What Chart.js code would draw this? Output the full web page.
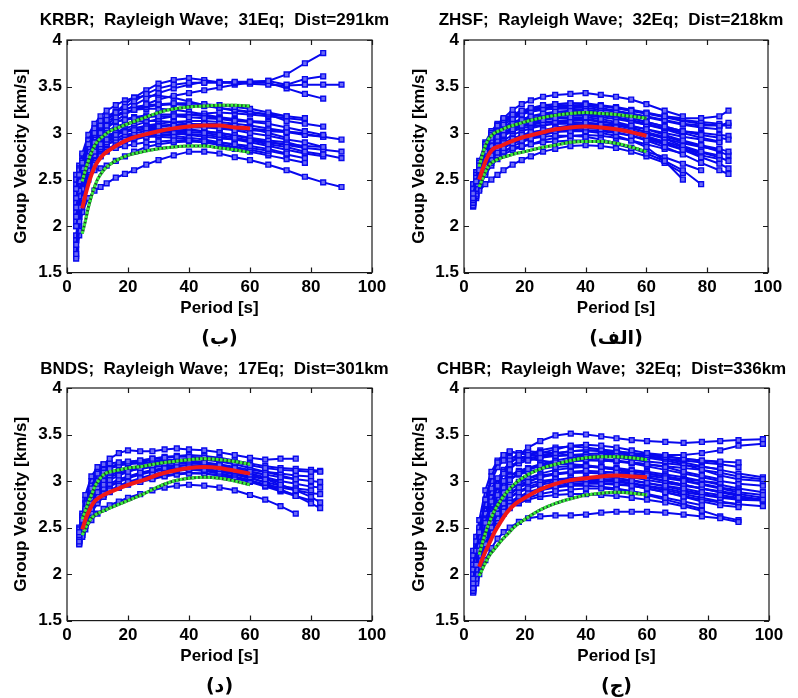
<!DOCTYPE html>
<html>
<head>
<meta charset="utf-8">
<script src="https://cdn.jsdelivr.net/npm/chart.js@4.4.1/dist/chart.umd.min.js"></script>
<style>
  body { margin: 0; background: #fff; }
  #wrap { position: relative; width: 798px; height: 698px; background: #fff; }
  #wrap canvas { position: absolute; }
</style>
</head>
<body>
<div id="wrap">
  <canvas id="krbr" width="400" height="350" style="left:0;top:0"></canvas>
  <canvas id="zhsf" width="398" height="350" style="left:400px;top:0"></canvas>
  <canvas id="bnds" width="400" height="348" style="left:0;top:350px"></canvas>
  <canvas id="chbr" width="398" height="348" style="left:400px;top:350px"></canvas>
</div>
<script>
// periods of the averaged curves (red mean, green +/- std)
const meanPeriods = [5, 6, 7, 8, 9, 10, 12, 14, 17, 20, 25, 30, 35, 40, 45, 50, 55, 60];
const xTicks = [0, 20, 40, 60, 80, 100];
const yTicks = [1.5, 2, 2.5, 3, 3.5, 4];

// KRBR
const krbrPeriods = [3, 4, 5, 7, 9, 11, 13, 16, 19, 22, 26, 30, 35, 40, 45, 50, 55, 60, 66, 72, 78, 84, 90];
const krbrCurves = [
  [2.40,2.55,2.68,2.88,3.00,3.08,3.14,3.22,3.28,3.34,3.42,3.48,3.52,3.54,3.54,3.54,3.55,3.55,3.56,3.63,3.75,3.86,null],
  [2.30,2.48,2.62,2.85,2.98,3.07,3.14,3.23,3.31,3.38,3.46,3.53,3.57,3.59,3.57,3.54,3.54,3.55,3.56,3.52,3.58,3.61,null],
  [2.20,2.38,2.52,2.75,2.90,3.00,3.08,3.17,3.24,3.30,3.37,3.43,3.48,3.52,3.55,3.55,3.54,3.53,3.52,3.51,3.52,3.52,3.52],
  [2.10,2.32,2.50,2.74,2.88,2.98,3.05,3.13,3.20,3.25,3.31,3.36,3.40,3.43,3.46,3.49,3.52,3.54,3.54,3.48,3.42,3.37,null],
  [2.35,2.55,2.70,2.92,3.05,3.13,3.18,3.23,3.26,3.28,3.30,3.31,3.32,3.32,3.31,3.30,3.28,3.26,3.22,3.18,3.16,null,null],
  [2.25,2.45,2.60,2.85,2.98,3.06,3.12,3.18,3.22,3.25,3.28,3.30,3.31,3.30,3.29,3.27,3.25,3.23,3.20,3.13,3.10,3.07,null],
  [2.00,2.20,2.40,2.65,2.80,2.88,2.93,2.98,3.01,3.03,3.05,3.07,3.08,3.09,3.10,3.10,3.08,3.05,3.00,2.95,null,null,null],
  [1.80,2.05,2.30,2.60,2.76,2.85,2.90,2.95,2.98,3.00,3.02,3.04,3.05,3.06,3.06,3.05,3.03,3.00,2.97,2.93,2.90,2.85,null],
  [1.70,1.95,2.25,2.58,2.75,2.83,2.88,2.92,2.95,2.97,2.99,3.00,3.01,3.01,3.00,2.98,2.95,2.92,2.88,2.85,2.80,2.77,2.73],
  [null,2.00,2.15,2.30,2.38,2.42,2.46,2.52,2.56,2.60,2.66,2.71,2.76,2.80,2.80,2.78,2.74,2.71,2.66,2.60,2.53,2.47,2.42],
  [1.65,1.90,2.20,2.50,2.66,2.75,2.80,2.84,2.86,2.88,2.90,2.91,2.92,2.92,2.91,2.90,2.88,2.86,2.83,2.78,null,null,null],
  [2.30,2.45,2.60,2.80,2.90,2.95,2.98,3.00,3.02,3.03,3.04,3.05,3.05,3.04,3.02,3.00,2.98,2.95,2.92,2.90,2.85,null,null],
  [2.40,2.55,2.68,2.85,2.95,3.02,3.07,3.12,3.14,3.16,3.17,3.18,3.18,3.17,3.16,3.15,3.13,3.12,3.10,3.06,3.02,2.98,null],
  [1.75,2.10,2.40,2.70,2.82,2.88,2.92,2.95,2.97,2.98,2.99,2.98,2.97,2.95,2.93,2.90,2.87,2.84,2.81,2.77,2.73,null,null],
  [2.05,2.25,2.45,2.70,2.83,2.90,2.95,3.00,3.03,3.05,3.07,3.08,3.09,3.10,3.09,3.08,3.06,3.05,3.03,3.01,2.98,2.96,null],
  [2.10,2.30,2.45,2.55,2.60,2.62,2.65,2.70,2.75,2.80,2.85,2.88,2.90,2.91,2.90,2.88,2.85,2.82,2.78,null,null,null,null],
  [2.50,2.60,2.70,2.88,2.98,3.04,3.08,3.12,3.15,3.17,3.19,3.20,3.20,3.20,3.18,3.16,3.14,3.12,null,null,null,null,null],
  [1.90,2.15,2.35,2.62,2.76,2.84,2.88,2.92,2.94,2.95,2.96,2.96,2.95,2.93,2.90,2.87,2.83,2.80,2.76,2.72,2.68,null,null],
  [2.45,2.62,2.78,2.98,3.10,3.18,3.24,3.30,3.35,3.38,3.40,3.40,3.38,3.34,3.30,3.27,3.24,3.22,3.20,3.18,null,null,null],
  [2.20,2.40,2.55,2.75,2.86,2.92,2.96,3.00,3.02,3.03,3.04,3.02,3.00,2.98,2.96,2.94,2.93,2.92,2.90,2.88,2.86,2.85,null],
  [1.68,1.95,2.28,2.62,2.78,2.87,2.93,2.98,3.02,3.05,3.08,3.10,3.12,3.13,3.13,3.12,3.10,3.08,3.05,3.02,2.99,2.96,2.93],
  [2.15,2.35,2.50,2.72,2.84,2.91,2.96,3.01,3.05,3.08,3.12,3.15,3.18,3.20,3.21,3.22,3.21,3.20,3.18,3.16,3.14,null,null],
  [1.85,2.10,2.32,2.55,2.68,2.76,2.82,2.88,2.92,2.95,2.98,3.00,3.02,3.03,3.02,3.00,2.97,2.94,2.90,2.87,2.84,2.82,2.80],
  [2.55,2.65,2.75,2.92,3.03,3.10,3.15,3.20,3.23,3.25,3.26,3.26,3.25,3.23,3.20,3.17,3.15,3.13,3.12,null,null,null,null],
  [2.00,2.18,2.35,2.56,2.68,2.76,2.81,2.86,2.90,2.93,2.96,2.98,2.99,2.99,2.98,2.96,2.93,2.90,2.86,2.82,2.78,2.75,null],
  [2.28,2.45,2.58,2.78,2.90,2.97,3.02,3.07,3.10,3.12,3.13,3.13,3.12,3.10,3.08,3.06,3.04,3.03,3.02,3.01,3.00,null,null]
];
const krbrMean  = [2.19,2.33,2.45,2.55,2.63,2.69,2.77,2.82,2.88,2.93,2.98,3.02,3.05,3.07,3.08,3.08,3.06,3.05];
const krbrUpper = [2.48,2.60,2.70,2.79,2.86,2.91,2.97,3.02,3.06,3.10,3.16,3.22,3.26,3.28,3.29,3.30,3.30,3.29];
const krbrLower = [1.92,2.05,2.20,2.32,2.42,2.50,2.60,2.66,2.72,2.76,2.80,2.83,2.85,2.86,2.86,2.84,2.82,2.79];

// ZHSF
const zhsfPeriods = [3, 4, 5, 7, 9, 11, 13, 16, 19, 22, 26, 30, 35, 40, 45, 50, 55, 60, 66, 72, 78, 84, 87];
const zhsfCurves = [
  [2.35,2.48,2.60,2.80,2.95,3.08,3.16,3.25,3.31,3.35,3.39,3.41,3.42,3.43,3.41,3.39,3.36,3.31,3.24,3.18,null,null,null],
  [2.40,2.52,2.65,2.85,2.98,3.08,3.14,3.20,3.24,3.27,3.30,3.31,3.32,3.31,3.29,3.27,3.24,3.21,3.18,3.16,3.16,3.18,3.24],
  [2.30,2.45,2.58,2.78,2.92,3.02,3.09,3.15,3.20,3.23,3.26,3.28,3.29,3.29,3.27,3.24,3.21,3.18,3.14,3.10,3.08,3.08,3.11],
  [2.28,2.40,2.52,2.72,2.86,2.96,3.03,3.10,3.14,3.18,3.21,3.23,3.24,3.24,3.22,3.20,3.16,3.12,3.07,3.02,2.98,2.95,2.93],
  [2.25,2.38,2.50,2.70,2.83,2.92,2.98,3.04,3.08,3.11,3.14,3.16,3.17,3.17,3.15,3.12,3.08,3.04,2.98,2.92,2.87,2.83,2.80],
  [2.30,2.42,2.55,2.74,2.86,2.94,2.99,3.04,3.07,3.09,3.11,3.12,3.12,3.11,3.09,3.06,3.02,2.97,2.90,2.82,2.74,2.67,2.62],
  [2.22,2.34,2.46,2.64,2.76,2.84,2.89,2.94,2.98,3.01,3.03,3.05,3.06,3.06,3.04,3.01,2.97,2.92,2.85,2.77,2.68,2.60,2.56],
  [2.26,2.36,2.48,2.62,2.72,2.79,2.84,2.89,2.92,2.94,2.96,2.97,2.97,2.96,2.93,2.89,2.84,2.78,2.70,2.60,2.45,null,null],
  [2.25,2.32,2.38,2.45,2.50,2.55,2.60,2.66,2.71,2.75,2.80,2.83,2.86,2.87,2.86,2.84,2.80,2.75,2.68,2.57,null,null,null],
  [2.28,2.40,2.50,2.66,2.76,2.82,2.86,2.90,2.93,2.96,2.99,3.01,3.02,3.02,3.00,2.97,2.92,2.85,2.70,2.50,null,null,null],
  [2.35,2.48,2.60,2.78,2.90,2.98,3.03,3.08,3.11,3.13,3.15,3.16,3.16,3.15,3.13,3.10,3.06,3.01,2.94,2.86,2.80,2.76,null],
  [2.40,2.55,2.68,2.88,3.00,3.08,3.13,3.18,3.21,3.23,3.25,3.26,3.26,3.25,3.23,3.20,3.16,3.12,3.07,3.02,2.99,null,null],
  [2.32,2.44,2.56,2.76,2.88,2.95,3.00,3.05,3.08,3.10,3.12,3.13,3.14,3.14,3.12,3.10,3.07,3.04,3.00,2.96,2.93,2.90,null],
  [2.24,2.34,2.44,2.60,2.70,2.76,2.80,2.84,2.86,2.88,2.90,2.91,2.92,2.92,2.91,2.88,2.84,2.80,2.74,2.67,2.60,null,null],
  [2.45,2.58,2.70,2.90,3.02,3.10,3.15,3.20,3.23,3.25,3.27,3.28,3.28,3.27,3.25,3.23,3.20,3.17,3.13,3.09,3.06,3.04,null],
  [2.30,2.40,2.52,2.70,2.80,2.86,2.90,2.94,2.97,2.99,3.01,3.02,3.03,3.03,3.02,3.00,2.97,2.93,2.88,2.82,2.76,2.72,null],
  [2.38,2.50,2.63,2.82,2.94,3.02,3.07,3.12,3.15,3.18,3.20,3.21,3.22,3.22,3.20,3.17,3.13,3.09,3.04,2.98,null,null,null],
  [2.27,2.37,2.47,2.62,2.74,2.82,2.88,2.93,2.97,3.00,3.03,3.06,3.08,3.09,3.08,3.06,3.03,2.99,2.94,2.89,2.85,2.82,null],
  [2.23,2.33,2.43,2.58,2.68,2.75,2.80,2.86,2.90,2.94,2.98,3.01,3.04,3.05,3.05,3.03,3.00,2.96,2.91,2.85,2.79,2.74,2.70],
  [2.36,2.49,2.62,2.84,2.98,3.07,3.13,3.19,3.23,3.26,3.29,3.31,3.32,3.32,3.30,3.28,3.25,3.22,3.18,3.14,3.12,3.10,null],
  [2.29,2.41,2.53,2.72,2.84,2.92,2.97,3.02,3.05,3.07,3.09,3.10,3.10,3.09,3.07,3.04,3.00,2.95,2.89,2.83,2.78,null,null],
  [2.33,2.46,2.59,2.80,2.93,3.01,3.06,3.11,3.14,3.16,3.18,3.19,3.19,3.19,3.17,3.15,3.12,3.09,3.05,3.02,3.00,2.98,2.97],
  [2.21,2.30,2.40,2.55,2.65,2.72,2.77,2.82,2.85,2.88,2.92,2.95,2.97,2.98,2.97,2.95,2.92,2.88,2.83,2.78,null,null,null],
  [2.42,2.55,2.67,2.86,2.98,3.06,3.11,3.17,3.21,3.24,3.27,3.29,3.30,3.30,3.29,3.27,3.24,3.21,3.17,3.13,3.10,3.08,3.08],
  [2.26,2.36,2.46,2.64,2.77,2.86,2.92,2.98,3.02,3.05,3.08,3.10,3.11,3.11,3.10,3.08,3.05,3.01,2.96,2.91,2.86,2.80,2.76],
  [2.31,2.43,2.55,2.74,2.86,2.94,3.00,3.06,3.10,3.13,3.16,3.18,3.19,3.20,3.19,3.17,3.14,3.10,3.05,3.00,2.95,2.91,null]
];
const zhsfMean  = [2.50,2.60,2.69,2.76,2.81,2.84,2.86,2.89,2.93,2.96,3.00,3.04,3.06,3.07,3.06,3.04,3.01,2.97];
const zhsfUpper = [2.64,2.76,2.86,2.93,2.97,3.00,3.03,3.06,3.09,3.12,3.16,3.19,3.21,3.22,3.21,3.20,3.18,3.16];
const zhsfLower = [2.42,2.50,2.58,2.64,2.68,2.70,2.73,2.75,2.78,2.80,2.84,2.87,2.90,2.91,2.91,2.89,2.85,2.80];

// BNDS
const bndsPeriods = [4, 5, 6, 8, 10, 12, 14, 17, 20, 24, 28, 32, 36, 40, 45, 50, 55, 60, 65, 70, 75, 80, 83];
const bndsCurves = [
  [2.45,2.58,2.70,2.92,3.08,3.18,3.24,3.30,3.33,3.32,3.32,3.34,3.35,3.34,3.33,3.31,3.28,3.25,3.23,3.24,3.24,null,null],
  [2.42,2.60,2.85,3.05,3.15,3.18,3.19,3.20,3.21,3.22,3.24,3.25,3.26,3.26,3.25,3.23,3.20,3.17,3.14,3.12,3.11,3.10,3.10],
  [2.40,2.52,2.64,2.85,3.00,3.09,3.13,3.17,3.19,3.21,3.22,3.23,3.23,3.22,3.20,3.17,3.14,3.10,3.07,3.04,3.02,3.00,2.99],
  [2.35,2.46,2.58,2.76,2.88,2.96,3.01,3.06,3.10,3.14,3.17,3.19,3.20,3.20,3.18,3.15,3.11,3.07,3.02,2.96,2.90,2.83,2.77],
  [2.38,2.48,2.58,2.74,2.85,2.92,2.97,3.02,3.05,3.09,3.12,3.14,3.16,3.17,3.16,3.13,3.09,3.04,2.98,2.91,2.84,2.76,2.71],
  [2.32,2.40,2.48,2.58,2.65,2.70,2.74,2.78,2.82,2.86,2.90,2.93,2.95,2.96,2.95,2.93,2.90,2.85,2.80,2.73,2.65,null,null],
  [2.36,2.45,2.55,2.70,2.80,2.86,2.90,2.95,2.99,3.03,3.07,3.10,3.12,3.13,3.12,3.10,3.07,3.03,2.99,2.95,2.92,2.90,null],
  [2.44,2.56,2.68,2.88,3.00,3.06,3.09,3.12,3.14,3.16,3.18,3.20,3.21,3.21,3.20,3.18,3.15,3.12,3.10,3.08,3.06,3.05,null],
  [2.34,2.42,2.52,2.66,2.76,2.83,2.88,2.93,2.97,3.02,3.06,3.09,3.11,3.12,3.11,3.08,3.04,3.00,2.95,2.90,2.85,null,null],
  [2.48,2.62,2.76,2.95,3.06,3.12,3.15,3.17,3.18,3.19,3.20,3.22,3.23,3.24,3.23,3.21,3.18,3.14,3.10,3.06,3.02,null,null],
  [2.37,2.47,2.57,2.72,2.82,2.89,2.94,2.99,3.03,3.07,3.10,3.12,3.13,3.13,3.11,3.08,3.05,3.01,2.96,2.92,null,null,null],
  [2.40,2.50,2.62,2.80,2.92,3.00,3.04,3.08,3.11,3.13,3.15,3.16,3.17,3.17,3.16,3.14,3.11,3.08,3.04,3.00,2.97,2.94,2.93],
  [2.33,2.42,2.52,2.68,2.78,2.85,2.89,2.93,2.96,2.99,3.02,3.05,3.07,3.08,3.08,3.06,3.03,2.99,2.94,2.89,2.84,2.79,null],
  [2.50,2.65,2.80,3.00,3.10,3.14,3.16,3.18,3.20,3.22,3.24,3.26,3.27,3.28,3.27,3.25,3.22,3.19,3.16,3.14,3.13,3.12,3.11],
  [2.36,2.44,2.54,2.70,2.82,2.90,2.95,3.00,3.04,3.08,3.11,3.13,3.14,3.14,3.13,3.11,3.08,3.05,3.02,2.99,null,null,null],
  [2.42,2.54,2.66,2.84,2.95,3.02,3.06,3.10,3.13,3.15,3.17,3.18,3.19,3.19,3.18,3.16,3.13,3.10,3.07,null,null,null,null],
  [2.38,2.46,2.55,2.70,2.80,2.86,2.90,2.94,2.97,3.00,3.03,3.06,3.08,3.09,3.08,3.06,3.03,3.00,2.96,2.93,2.90,2.87,2.86]
];
const bndsMean  = [2.48,2.58,2.66,2.73,2.78,2.81,2.85,2.88,2.92,2.96,3.01,3.07,3.11,3.14,3.15,3.14,3.11,3.08];
const bndsUpper = [2.59,2.68,2.77,2.85,2.93,2.99,3.07,3.10,3.12,3.14,3.16,3.19,3.21,3.23,3.24,3.23,3.21,3.18];
const bndsLower = [2.42,2.49,2.55,2.60,2.63,2.65,2.68,2.71,2.75,2.79,2.86,2.94,3.00,3.03,3.04,3.03,3.00,2.96];

// CHBR
const chbrPeriods = [3, 4, 5, 7, 9, 11, 13, 15, 18, 21, 25, 30, 35, 40, 45, 50, 55, 60, 66, 72, 78, 84, 90, 98];
const chbrCurves = [
  [1.95,2.10,2.25,2.55,2.78,2.95,3.08,3.18,3.28,3.36,3.43,3.49,3.51,3.50,3.48,3.46,3.44,3.43,3.42,3.41,3.42,3.43,3.44,3.45],
  [2.05,2.25,2.45,2.80,3.05,3.20,3.28,3.32,3.30,3.28,3.30,3.34,3.38,3.39,3.38,3.36,3.33,3.30,3.28,3.28,3.30,3.33,3.38,3.40],
  [1.90,2.05,2.20,2.50,2.75,2.95,3.10,3.22,3.30,3.32,3.31,3.30,3.28,3.26,3.24,3.22,3.20,3.18,3.15,3.10,3.06,3.02,null,null],
  [1.85,2.00,2.15,2.42,2.65,2.85,3.00,3.12,3.22,3.28,3.33,3.36,3.37,3.36,3.34,3.32,3.30,3.28,3.26,3.24,3.22,3.21,3.20,null],
  [1.88,2.02,2.18,2.45,2.66,2.82,2.93,3.01,3.08,3.13,3.17,3.20,3.22,3.23,3.22,3.21,3.20,3.18,3.16,3.14,3.12,3.09,3.05,3.02],
  [1.82,1.95,2.08,2.32,2.50,2.65,2.76,2.85,2.93,2.99,3.04,3.08,3.10,3.11,3.10,3.09,3.08,3.06,3.03,3.00,2.96,2.92,2.88,2.85],
  [1.80,1.90,2.00,2.15,2.28,2.38,2.45,2.50,2.56,2.60,2.62,2.63,2.63,2.64,2.66,2.67,2.67,2.67,2.66,2.64,2.62,2.60,2.56,null],
  [1.85,1.98,2.12,2.38,2.55,2.68,2.76,2.82,2.88,2.92,2.96,2.99,3.01,3.02,3.02,3.01,3.00,2.98,2.95,2.92,2.88,2.85,2.82,2.80],
  [2.00,2.15,2.30,2.58,2.76,2.88,2.96,3.02,3.07,3.10,3.13,3.15,3.16,3.16,3.15,3.13,3.11,3.08,3.05,3.01,2.97,2.93,2.90,null],
  [1.90,2.02,2.14,2.35,2.50,2.60,2.67,2.73,2.78,2.82,2.86,2.89,2.91,2.92,2.92,2.91,2.89,2.86,2.82,2.78,2.74,null,null,null],
  [2.20,2.35,2.50,2.75,2.92,3.03,3.10,3.15,3.19,3.22,3.25,3.27,3.28,3.28,3.27,3.25,3.23,3.21,3.19,3.17,3.15,3.13,null,null],
  [1.84,1.96,2.08,2.30,2.46,2.57,2.65,2.71,2.76,2.80,2.83,2.85,2.86,2.86,2.85,2.84,2.82,2.80,2.77,2.73,2.68,2.62,2.58,null],
  [1.95,2.10,2.25,2.50,2.68,2.80,2.88,2.94,2.99,3.03,3.06,3.08,3.09,3.09,3.08,3.06,3.04,3.01,2.98,2.95,2.92,2.89,2.86,2.82],
  [2.10,2.25,2.40,2.65,2.82,2.93,3.00,3.05,3.10,3.14,3.18,3.22,3.25,3.27,3.28,3.28,3.27,3.25,3.22,3.18,3.12,3.06,3.02,3.00],
  [1.87,2.00,2.12,2.35,2.52,2.64,2.72,2.78,2.83,2.87,2.91,2.94,2.96,2.97,2.97,2.96,2.95,2.92,2.88,2.83,2.78,2.74,2.72,null],
  [2.15,2.30,2.48,2.78,3.00,3.15,3.22,3.25,3.26,3.24,3.22,3.20,3.18,3.16,3.14,3.12,3.10,3.08,3.05,3.02,3.00,2.98,null,null],
  [1.92,2.06,2.20,2.45,2.62,2.74,2.82,2.88,2.93,2.97,3.00,3.02,3.03,3.03,3.02,3.00,2.98,2.95,2.92,2.88,2.85,2.82,2.80,2.79],
  [2.02,2.18,2.35,2.62,2.80,2.92,3.00,3.06,3.11,3.14,3.17,3.18,3.18,3.17,3.15,3.12,3.08,3.04,3.00,2.96,2.92,2.88,2.85,null],
  [1.86,1.98,2.10,2.32,2.48,2.60,2.68,2.75,2.81,2.86,2.90,2.93,2.95,2.95,2.94,2.92,2.89,2.85,2.80,2.75,2.70,null,null,null],
  [2.25,2.40,2.58,2.90,3.10,3.22,3.28,3.31,3.30,3.28,3.27,3.27,3.28,3.29,3.30,3.30,3.30,3.29,3.27,3.24,3.22,3.20,null,null],
  [1.83,1.97,2.12,2.40,2.60,2.74,2.84,2.91,2.98,3.03,3.08,3.12,3.14,3.15,3.15,3.14,3.12,3.10,3.07,3.04,3.00,2.96,2.92,2.88],
  [2.08,2.22,2.38,2.68,2.88,3.02,3.12,3.20,3.25,3.27,3.28,3.30,3.32,3.33,3.32,3.30,3.28,3.26,3.24,3.22,3.20,3.18,3.15,null],
  [1.81,1.93,2.05,2.28,2.45,2.58,2.67,2.74,2.80,2.85,2.90,2.94,2.97,2.98,2.98,2.97,2.95,2.92,2.88,2.84,2.80,2.77,2.75,null],
  [1.97,2.12,2.27,2.55,2.74,2.87,2.96,3.02,3.08,3.12,3.16,3.19,3.21,3.22,3.22,3.21,3.19,3.16,3.12,3.08,3.04,3.00,2.97,2.95],
  [1.89,2.03,2.16,2.40,2.57,2.69,2.77,2.83,2.89,2.94,2.98,3.01,3.03,3.04,3.04,3.03,3.01,2.98,2.94,2.90,2.86,2.83,2.81,null],
  [2.12,2.28,2.45,2.72,2.90,3.02,3.10,3.16,3.21,3.24,3.27,3.30,3.32,3.33,3.33,3.32,3.30,3.27,3.24,3.20,3.16,3.12,3.08,3.04],
  [1.93,2.07,2.21,2.47,2.65,2.77,2.85,2.91,2.96,3.00,3.04,3.07,3.09,3.10,3.10,3.09,3.07,3.04,3.00,2.96,2.92,2.88,2.84,2.80],
  [1.86,1.99,2.11,2.33,2.49,2.61,2.70,2.77,2.83,2.88,2.92,2.96,2.99,3.00,3.00,2.99,2.97,2.94,2.90,2.86,2.82,2.78,2.75,2.73]
];
const chbrMean  = [2.08,2.16,2.24,2.31,2.38,2.45,2.56,2.66,2.76,2.82,2.91,2.97,3.01,3.03,3.05,3.06,3.05,3.04];
const chbrUpper = [2.21,2.33,2.44,2.53,2.61,2.68,2.79,2.88,2.98,3.05,3.13,3.18,3.22,3.25,3.26,3.26,3.25,3.23];
const chbrLower = [1.98,2.05,2.12,2.18,2.23,2.27,2.35,2.42,2.52,2.59,2.69,2.76,2.81,2.85,2.87,2.88,2.87,2.85];

const FONT = "'Liberation Sans', Arial, sans-serif";

// pair periods with values, skip missing ones
function toPoints(periods, values) {
    const pts = [];
    values.forEach((v, i) => {
        if (v !== null) pts.push({ x: periods[i], y: v });
    });
    return pts;
}

// MATLAB style box with inward ticks on all sides
const boxTicks = {
    id: 'boxTicks',
    afterLayout(chart) {
        // widen the title box a little and pull it left, so the long title is not squeezed
        const t = chart.titleBlock;
        if (t) { t.left -= 42; t.right += 32; }
    },
    afterDatasetsDraw(chart) {
        const { ctx, chartArea: a, scales: { x, y } } = chart;
        ctx.save();
        ctx.strokeStyle = '#1a1a1a';
        ctx.lineWidth = 1.2;
        ctx.strokeRect(a.left, a.top, a.right - a.left, a.bottom - a.top);
        ctx.beginPath();
        x.ticks.forEach(t => {
            const px = Math.round(x.getPixelForValue(t.value)) + 0.5;
            ctx.moveTo(px, a.bottom); ctx.lineTo(px, a.bottom - 5);
            ctx.moveTo(px, a.top); ctx.lineTo(px, a.top + 5);
        });
        y.ticks.forEach(t => {
            const py = Math.round(y.getPixelForValue(t.value)) + 0.5;
            ctx.moveTo(a.left, py); ctx.lineTo(a.left + 5, py);
            ctx.moveTo(a.right, py); ctx.lineTo(a.right - 5, py);
        });
        ctx.stroke();
        ctx.restore();
    }
};

function makePanel(id, title, label, periods, curves, mean, upper, lower, pad) {
    const datasets = [];

    // red mean curve on top
    datasets.push({
        data: toPoints(meanPeriods, mean),
        borderColor: '#f01818', borderWidth: 4, pointRadius: 0,
        cubicInterpolationMode: 'monotone', order: 0
    });

    // green +/- std curves (dark line under green dashes)
    [upper, lower].forEach(arr => {
        datasets.push({
            data: toPoints(meanPeriods, arr),
            borderColor: '#3cf03c', borderWidth: 3, borderDash: [2.5, 1.5], pointRadius: 0,
            cubicInterpolationMode: 'monotone', order: 1
        });
        datasets.push({
            data: toPoints(meanPeriods, arr),
            borderColor: '#1b5030', borderWidth: 3, pointRadius: 0,
            cubicInterpolationMode: 'monotone', order: 2
        });
    });

    // blue dispersion curves, one per event
    curves.forEach(c => {
        datasets.push({
            data: toPoints(periods, c),
            borderColor: '#0808ee', borderWidth: 2,
            pointStyle: 'rect', pointRadius: 3.4, pointBorderWidth: 1.4,
            pointBorderColor: '#0808ee', pointBackgroundColor: '#6a6af4',
            tension: 0, order: 3
        });
    });

    new Chart(document.getElementById(id), {
        type: 'line',
        data: { datasets: datasets },
        options: {
            responsive: false,
            animation: false,
            events: [],
            layout: { padding: { left: pad.left, right: pad.right, top: 0, bottom: 0 } },
            plugins: {
                legend: { display: false },
                tooltip: { enabled: false },
                title: {
                    display: true, text: title, color: '#000', fullSize: false,
                    font: { family: FONT, size: 17, weight: 'bold' },
                    padding: { top: pad.titleTop, bottom: pad.titleBottom }
                },
                subtitle: {
                    display: true, text: label, position: 'bottom', color: '#000', fullSize: false,
                    font: { family: "'DejaVu Sans', sans-serif", size: 19, weight: 'bold' },
                    padding: { top: 0, bottom: 0 }
                }
            },
            scales: {
                x: {
                    type: 'linear', min: 0, max: 100,
                    afterBuildTicks: s => { s.ticks = xTicks.map(v => ({ value: v })); },
                    afterFit: s => { s.height = 54.6; },
                    grid: { display: false, drawTicks: false },
                    border: { display: false },
                    ticks: {
                        color: '#000', padding: 5, maxRotation: 0,
                        callback: v => String(v),
                        font: { family: FONT, size: 17, weight: 'bold' }
                    },
                    title: {
                        display: true, text: 'Period [s]', color: '#000',
                        font: { family: FONT, size: 17, weight: 'bold' }, padding: { top: 4, bottom: 9 }
                    }
                },
                y: {
                    type: 'linear', min: 1.5, max: 4,
                    afterBuildTicks: s => { s.ticks = yTicks.map(v => ({ value: v })); },
                    afterFit: s => { s.width = pad.yWidth; },
                    grid: { display: false, drawTicks: false },
                    border: { display: false },
                    ticks: {
                        color: '#000', padding: 5,
                        callback: v => String(v),
                        font: { family: FONT, size: 17, weight: 'bold' }
                    },
                    title: {
                        display: true, text: 'Group Velocity [km/s]', color: '#000',
                        font: { family: FONT, size: 17, weight: 'bold' }, padding: { top: 4, bottom: 4 }
                    }
                }
            }
        },
        plugins: [boxTicks]
    });
}

makePanel('krbr', 'KRBR;  Rayleigh Wave;  31Eq;  Dist=291km', '(ب)',
    krbrPeriods, krbrCurves, krbrMean, krbrUpper, krbrLower,
    { left: 7, right: 28, yWidth: 60, titleTop: 10, titleBottom: 9.6 });
makePanel('zhsf', 'ZHSF;  Rayleigh Wave;  32Eq;  Dist=218km', '(الف)',
    zhsfPeriods, zhsfCurves, zhsfMean, zhsfUpper, zhsfLower,
    { left: 5, right: 30, yWidth: 59, titleTop: 10, titleBottom: 9.6 });
makePanel('bnds', 'BNDS;  Rayleigh Wave;  17Eq;  Dist=301km', '(د)',
    bndsPeriods, bndsCurves, bndsMean, bndsUpper, bndsLower,
    { left: 7, right: 28, yWidth: 60, titleTop: 9, titleBottom: 8.6 });
makePanel('chbr', 'CHBR;  Rayleigh Wave;  32Eq;  Dist=336km', '(ج)',
    chbrPeriods, chbrCurves, chbrMean, chbrUpper, chbrLower,
    { left: 5, right: 29, yWidth: 59, titleTop: 9, titleBottom: 8.6 });
</script>
</body>
</html>
